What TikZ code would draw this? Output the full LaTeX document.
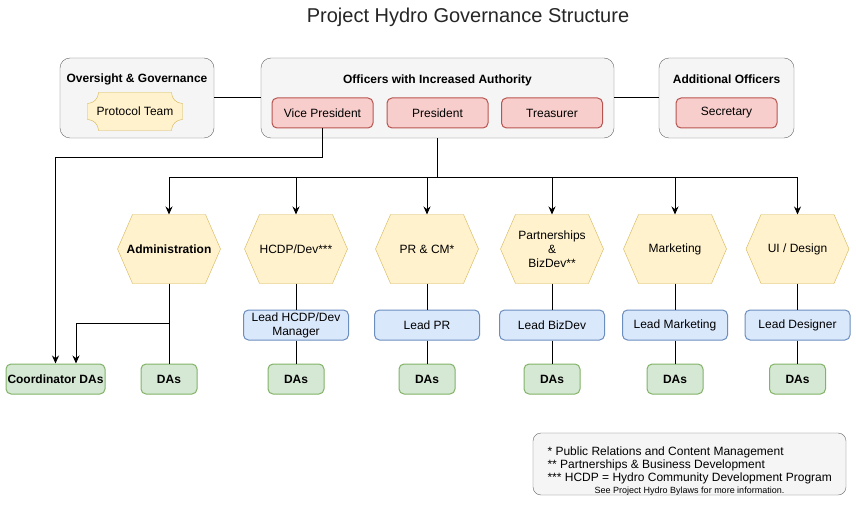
\documentclass[tikz,border=0pt]{standalone}
\usepackage{fontspec}
\setmainfont{Liberation Sans}
\usepackage{xcolor}
\usetikzlibrary{shapes,arrows.meta,positioning,calc,backgrounds}
\definecolor{grpfill}{HTML}{F5F5F5}
\definecolor{grpline}{HTML}{666666}
\definecolor{redfill}{HTML}{F8CECC}
\definecolor{redline}{HTML}{B85450}
\definecolor{yelfill}{HTML}{FFF2CC}
\definecolor{yelline}{HTML}{D6B656}
\definecolor{bluefill}{HTML}{DAE8FC}
\definecolor{blueline}{HTML}{6C8EBF}
\definecolor{grnfill}{HTML}{D5E8D4}
\definecolor{grnline}{HTML}{82B366}
\newcommand{\boxfont}{\fontsize{12}{14}\selectfont}

\begin{document}
\begin{tikzpicture}[x=1pt, y=1pt, line width=1pt, >={Stealth[length=8pt,width=7pt]}]
    % Styles
    \tikzstyle{group} = [rectangle, draw=grpline, fill=grpfill, rounded corners=10pt]
    \tikzstyle{grouptitle} = [font=\boxfont\bfseries, inner sep=0pt]
    \tikzstyle{officer} = [rectangle, draw=redline, fill=redfill, rounded corners=5pt, minimum width=101pt, minimum height=30pt, inner sep=0pt, font=\boxfont]
    \tikzstyle{area} = [minimum width=102pt, minimum height=68pt, inner sep=0pt, align=center, font=\boxfont]
    \tikzstyle{lead} = [rectangle, draw=blueline, fill=bluefill, rounded corners=5pt, minimum width=105pt, minimum height=30pt, inner sep=0pt, align=center, font=\boxfont]
    \tikzstyle{das} = [rectangle, draw=grnline, fill=grnfill, rounded corners=5pt, minimum width=56pt, minimum height=30pt, inner sep=0pt, font=\boxfont\bfseries]
    \tikzstyle{hexagon} = [draw=yelline, fill=yelfill]
    \tikzstyle{line} = [draw]

    % Containers
    \begin{scope}[on background layer]
        \path[use as bounding box, fill=white] (0,0) rectangle (856,-505);
        \node [group, minimum width=154pt, minimum height=80pt] (oversight) at (137,-98) {};
        \node [group, minimum width=353pt, minimum height=80pt] (officers) at (437.5,-98) {};
        \node [group, minimum width=135pt, minimum height=80pt] (additional) at (726.5,-98) {};
        \node [group, rounded corners=8pt, minimum width=313pt, minimum height=62pt] (notes) at (689.5,-464) {};
    \end{scope}

    % Nodes
    \node [font=\fontsize{20}{24}\selectfont, text=black!85] (title) at (468,-17) {Project Hydro Governance Structure};

    \node [grouptitle] (oversighttitle) at (137,-79) {Oversight \& Governance};
    \node [area, minimum width=94pt, minimum height=37pt] (protocol) at (135,-111.5) {Protocol Team};

    \node [grouptitle] (officerstitle) at (437.5,-80) {Officers with Increased Authority};
    \node [officer] (vp) at (322.5,-113) {Vice President};
    \node [officer] (president) at (437.5,-113) {President};
    \node [officer] (treasurer) at (552,-113) {Treasurer};

    \node [grouptitle] (additionaltitle) at (726.5,-79) {Additional Officers};
    \node [officer] (secretary) at (726.5,-113) {Secretary};

    \node [area, font=\boxfont\bfseries] (admin) at (169,-249) {Administration};
    \node [area] (hcdp) at (296,-249) {HCDP/Dev***};
    \node [area] (prcm) at (427,-249) {PR \& CM*};
    \node [area] (bizdev) at (552,-249) {Partnerships\\\&\\BizDev**};
    \node [area] (mktg) at (675,-249) {Marketing};
    \node [area] (design) at (797.5,-249) {UI / Design};

    \node [lead, below of=hcdp, node distance=76pt] (leadhcdp) {Lead HCDP/Dev\\Manager};
    \node [lead, below of=prcm, node distance=76pt] (leadpr) {Lead PR};
    \node [lead, below of=bizdev, node distance=76pt] (leadbiz) {Lead BizDev};
    \node [lead, below of=mktg, node distance=76pt] (leadmktg) {Lead Marketing};
    \node [lead, below of=design, node distance=76pt] (leaddesign) {Lead Designer};

    \node [das, minimum width=99pt] (coord) at (55.5,-379) {Coordinator DAs};
    \node [das, below of=admin, node distance=130pt] (dasadmin) {DAs};
    \node [das, below of=leadhcdp, node distance=54pt] (dashcdp) {DAs};
    \node [das, below of=leadpr, node distance=54pt] (daspr) {DAs};
    \node [das, below of=leadbiz, node distance=54pt] (dasbiz) {DAs};
    \node [das, below of=leadmktg, node distance=54pt] (dasmktg) {DAs};
    \node [das, below of=leaddesign, node distance=54pt] (dasdesign) {DAs};

    \node [align=left, font=\fontsize{12}{13}\selectfont, inner sep=0pt, anchor=north west] (notetext) at (547,-446.5)
        {* Public Relations and Content Management\\** Partnerships \& Business Development\\*** HCDP = Hydro Community Development Program};
    \node [font=\fontsize{9}{11}\selectfont, inner sep=0pt] (bylaws) at (689.5,-491) {See Project Hydro Bylaws for more information.};

    % Shapes behind the texts
    \begin{scope}[on background layer]
        \foreach \h in {admin,hcdp,prcm,bizdev,mktg,design}
            \path[hexagon] (\h.west) -- ($(\h.north west)+(15,0)$) -- ($(\h.north east)+(-15,0)$) -- (\h.east)
                -- ($(\h.south east)+(-15,0)$) -- ($(\h.south west)+(15,0)$) -- cycle;
        \path[hexagon] ($(protocol.north west)+(11,0)$) -- ($(protocol.north east)+(-11,0)$) arc[start angle=180, end angle=270, radius=11]
            -- ($(protocol.south east)+(0,11)$) arc[start angle=90, end angle=180, radius=11]
            -- ($(protocol.south west)+(11,0)$) arc[start angle=0, end angle=90, radius=11]
            -- ($(protocol.north west)+(0,-11)$) arc[start angle=270, end angle=360, radius=11] -- cycle;
    \end{scope}

    % Edges
    \path [line] (oversight.east) -- (officers.west);
    \path [line] (officers.east) -- (additional.west);
    \path [line, ->] (vp.south) -- ++(0,-29) -| (coord.north);
    \foreach \h in {admin,hcdp,prcm,bizdev,mktg,design}
        \path [line, ->] (officers.south) -- ++(0,-39) -| (\h.north);
    \path [line] (admin.south) -- (dasadmin.north);
    \path [line, ->] (admin.south) -- ++(0,-40) -| ([xshift=20.5pt]coord.north);
    \foreach \h/\l/\d in {hcdp/leadhcdp/dashcdp, prcm/leadpr/daspr, bizdev/leadbiz/dasbiz, mktg/leadmktg/dasmktg, design/leaddesign/dasdesign}
        \path [line] (\h.south) -- (\l.north) (\l.south) -- (\d.north);

\end{tikzpicture}
\end{document}
